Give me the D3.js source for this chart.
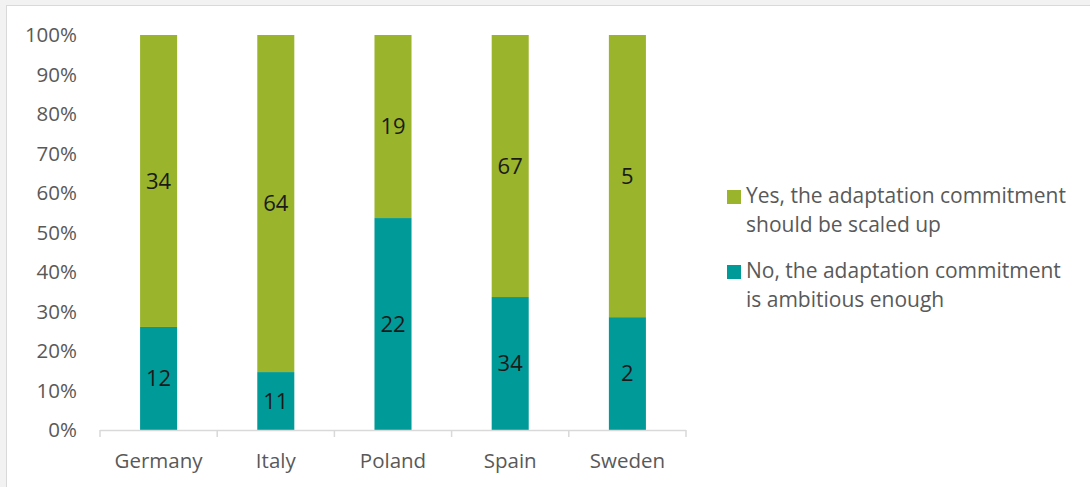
<!DOCTYPE html>
<html>
<head>
<meta charset="utf-8">
<script src="https://cdn.jsdelivr.net/npm/d3@7"></script>
<style>
  html, body { margin: 0; padding: 0; background: #f2f2f2; }
  svg { display: block; }
  text { font-family: "Open Sans", "Noto Sans", sans-serif; }
</style>
</head>
<body>
<svg id="chart" width="1090" height="487"></svg>
<script>
// Survey responses per country (counts)
const countries = ["Germany", "Italy", "Poland", "Spain", "Sweden"];
const noCounts  = [12, 11, 22, 34, 2];
const yesCounts = [34, 64, 19, 67, 5];
const yTicks = [0, 0.1, 0.2, 0.3, 0.4, 0.5, 0.6, 0.7, 0.8, 0.9, 1.0];
const seriesNames = [
  ["Yes, the adaptation commitment", "should be scaled up"],
  ["No, the adaptation commitment", "is ambitious enough"]
];
const seriesColors = ["#9ab42c", "#009a98"];

const svg = d3.select("#chart");

// chart frame
svg.append("rect")
  .attr("x", 6.5).attr("y", 5.5)
  .attr("width", 1100).attr("height", 500)
  .attr("fill", "#ffffff").attr("stroke", "#d9d9d9");

const plot = { left: 100, right: 686, top: 35, bottom: 430 };

const x = d3.scaleBand()
  .domain(countries)
  .range([plot.left, plot.right])
  .paddingInner(0.684).paddingOuter(0.342);

const y = d3.scaleLinear().domain([0, 1]).range([plot.bottom, plot.top]);

// stacked shares: "No" at the bottom, "Yes" on top
const rows = countries.map((c, i) => ({ country: c, no: noCounts[i], yes: yesCounts[i], total: noCounts[i] + yesCounts[i] }));
const stack = d3.stack().keys(["no", "yes"]).value((d, k) => d[k] / d.total);
const layers = stack(rows);
const colorOf = { no: seriesColors[1], yes: seriesColors[0] };

const g = svg.append("g");
layers.forEach(layer => {
  g.selectAll(null).data(layer).enter().append("rect")
    .attr("x", d => x(d.data.country))
    .attr("width", x.bandwidth())
    .attr("y", d => y(d[1]))
    .attr("height", d => y(d[0]) - y(d[1]))
    .attr("fill", colorOf[layer.key]);

  g.selectAll(null).data(layer).enter().append("text")
    .attr("x", d => x(d.data.country) + x.bandwidth() / 2)
    .attr("y", d => (y(d[0]) + y(d[1])) / 2)
    .attr("dy", "0.36em")
    .attr("text-anchor", "middle")
    .attr("font-size", 22)
    .attr("fill", "#1a1a1a")
    .text(d => d.data[layer.key]);
});

// y axis labels (no axis line)
const yAxis = svg.append("g")
  .attr("transform", `translate(${plot.left},0)`)
  .call(d3.axisLeft(y).tickValues(yTicks).tickFormat(d3.format(".0%")).tickSize(0).tickPadding(23));
yAxis.select(".domain").remove();
yAxis.selectAll("text")
  .attr("font-family", "'Open Sans', sans-serif")
  .attr("font-size", 20.5).attr("fill", "#595959");

// x axis with boundary ticks
const xAxis = svg.append("g").attr("transform", `translate(0,${plot.bottom})`);
xAxis.append("line")
  .attr("x1", plot.left).attr("x2", plot.right)
  .attr("y1", 0.5).attr("y2", 0.5)
  .attr("stroke", "#d9d9d9").attr("stroke-width", 1.5);
const step = x.step();
const boundaries = d3.range(countries.length + 1).map(i => plot.left + i * step);
xAxis.selectAll(null).data(boundaries).enter().append("line")
  .attr("x1", d => d).attr("x2", d => d)
  .attr("y1", 0).attr("y2", 7)
  .attr("stroke", "#d9d9d9").attr("stroke-width", 1.5);
xAxis.selectAll(null).data(countries).enter().append("text")
  .attr("x", d => x(d) + x.bandwidth() / 2)
  .attr("y", 38)
  .attr("text-anchor", "middle")
  .attr("font-size", 20.5)
  .attr("fill", "#595959")
  .text(d => d);

// legend
const legend = svg.append("g").attr("transform", "translate(727,0)");
const legendTops = [190, 265];
seriesNames.forEach((lines, i) => {
  const top = legendTops[i];
  legend.append("rect")
    .attr("x", 0).attr("y", top)
    .attr("width", 14).attr("height", 14)
    .attr("fill", seriesColors[i]);
  lines.forEach((ln, j) => {
    legend.append("text")
      .attr("x", 19).attr("y", top + 13 + j * 29)
      .attr("font-size", 21)
      .attr("fill", "#595959")
      .text(ln);
  });
});
</script>
</body>
</html>
